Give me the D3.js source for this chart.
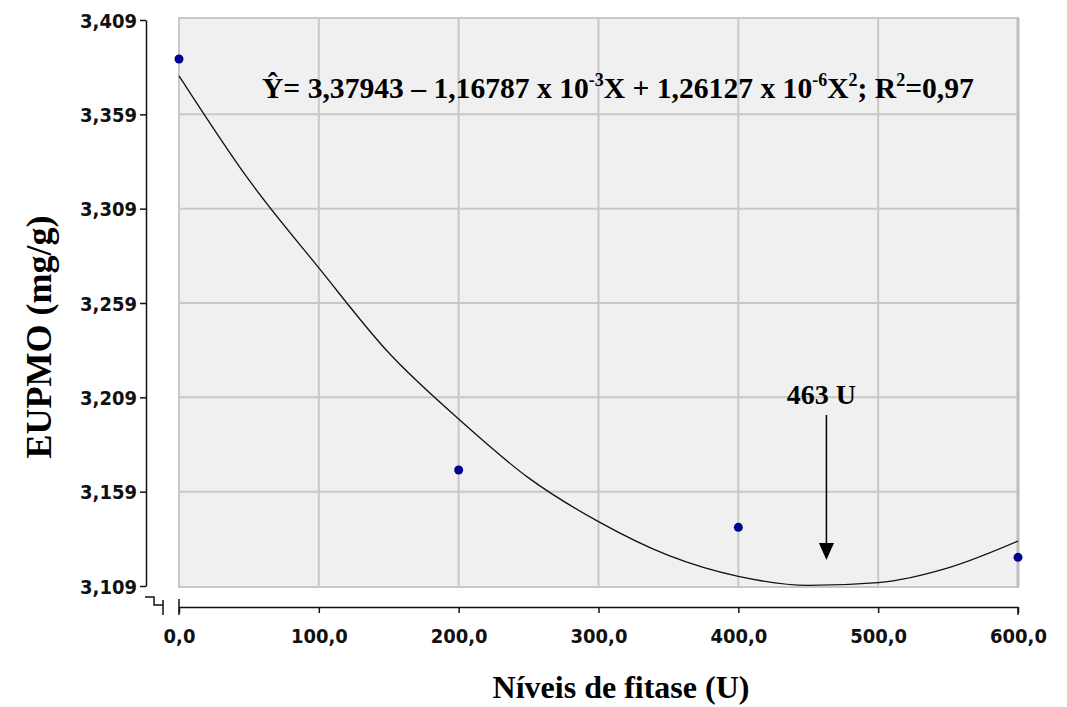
<!DOCTYPE html>
<html>
<head>
<meta charset="utf-8">
<script src="https://cdn.jsdelivr.net/npm/d3@7"></script>
<style>
	body { margin: 0; background: #fff; }
	svg { display: block; }
	.tick-label { font-family: "DejaVu Sans Condensed", "DejaVu Sans", Verdana, sans-serif; font-stretch: condensed; font-weight: bold; font-size: 20px; fill: #111; }
	.serif { font-family: "Liberation Serif", "Times New Roman", serif; font-weight: bold; fill: #000; }
</style>
</head>
<body>
<div id="chart"></div>
<script>
// observed means (EUPMO, mg/g) per phytase level
const levels = [0, 200, 400, 600];
const eupmo = [3.3883, 3.1705, 3.1401, 3.1242];

// fitted curve, every 50 U
const curve_x = [0, 50, 100, 150, 200, 250, 300, 350, 400, 450, 500, 550, 600];
const curve_y = [3.3794, 3.3242, 3.2776, 3.2326, 3.1975, 3.1663, 3.1431, 3.1252, 3.1141, 3.1093, 3.1108, 3.1186, 3.1328];

const x_ticks = [0, 100, 200, 300, 400, 500, 600];
const y_ticks = [3.109, 3.159, 3.209, 3.259, 3.309, 3.359, 3.409];

const optimum = 463;

const width = 1067;
const height = 707;
const plot = {left: 179, right: 1018, top: 18, bottom: 587};

const fmt = d3.formatLocale({decimal: ',', thousands: '.', grouping: [3]});
const fmtX = fmt.format('.1f');
const fmtY = fmt.format('.3f');

const svg = d3.select('#chart')
	.append('svg')
	.attr('width', width)
	.attr('height', height);

const xScale = d3.scaleLinear().domain([0, 600]).range([plot.left, plot.right]);
const yScale = d3.scaleLinear().domain([3.109, 3.409]).range([586, 20]);

// plot background
svg.append('rect')
	.attr('x', plot.left)
	.attr('y', plot.top)
	.attr('width', plot.right - plot.left)
	.attr('height', plot.bottom - plot.top)
	.attr('fill', '#f0f0f0')
	.attr('stroke', '#c8c8c8')
	.attr('stroke-width', 2);

// grid
svg.append('g')
	.selectAll('line')
	.data(x_ticks.slice(1, -1))
	.join('line')
	.attr('x1', d => xScale(d))
	.attr('x2', d => xScale(d))
	.attr('y1', plot.top)
	.attr('y2', plot.bottom)
	.attr('stroke', '#c8c8c8')
	.attr('stroke-width', 2);

svg.append('g')
	.selectAll('line')
	.data(y_ticks.slice(1, -1))
	.join('line')
	.attr('x1', plot.left)
	.attr('x2', plot.right)
	.attr('y1', d => yScale(d))
	.attr('y2', d => yScale(d))
	.attr('stroke', '#c8c8c8')
	.attr('stroke-width', 2);

// darker right edge of the plot
svg.append('line')
	.attr('x1', plot.right).attr('x2', plot.right)
	.attr('y1', plot.top).attr('y2', plot.bottom)
	.attr('stroke', '#bdbdbd')
	.attr('stroke-width', 3);

// y axis
const yAxis = svg.append('g')
	.attr('transform', 'translate(146,0)')
	.call(d3.axisLeft(yScale).tickValues(y_ticks).tickFormat(fmtY).tickSize(6).tickSizeOuter(0));

yAxis.select('.domain').attr('stroke', '#111').attr('stroke-width', 1.5);
yAxis.selectAll('.tick line').attr('stroke', '#111').attr('stroke-width', 1.5);
yAxis.selectAll('.tick text')
	.attr('class', 'tick-label')
	.attr('x', -9)
	.attr('dy', '0.35em');

// x axis
const xAxis = svg.append('g')
	.attr('transform', 'translate(0,607)')
	.call(d3.axisBottom(xScale).tickValues(x_ticks).tickFormat(fmtX).tickSize(6).tickSizeOuter(0));

xAxis.select('.domain').attr('stroke', '#111').attr('stroke-width', 1.5);
xAxis.selectAll('.tick line').attr('stroke', '#111').attr('stroke-width', 1.5);
xAxis.selectAll('.tick text')
	.attr('class', 'tick-label')
	.attr('y', 29)
	.attr('dy', '0.35em');

// start / end marks on the x axis
svg.append('line')
	.attr('x1', xScale(0)).attr('x2', xScale(0))
	.attr('y1', 599).attr('y2', 615)
	.attr('stroke', '#111').attr('stroke-width', 1.5);

svg.append('line')
	.attr('x1', xScale(600)).attr('x2', xScale(600))
	.attr('y1', 607).attr('y2', 615)
	.attr('stroke', '#111').attr('stroke-width', 1.5);

// axis break between the two axes
svg.append('path')
	.attr('d', 'M145,597 H154 V605 H163 M163,600 V615')
	.attr('fill', 'none')
	.attr('stroke', '#111')
	.attr('stroke-width', 1.5);

// fitted curve
const lineGenerator = d3.line()
	.x((d, i) => xScale(curve_x[i]))
	.y(d => yScale(d))
	.curve(d3.curveMonotoneX);

svg.append('path')
	.attr('d', lineGenerator(curve_y))
	.attr('fill', 'none')
	.attr('stroke', '#111')
	.attr('stroke-width', 1.3);

// observed points
svg.append('g')
	.selectAll('circle')
	.data(levels)
	.join('circle')
	.attr('cx', d => xScale(d))
	.attr('cy', (d, i) => yScale(eupmo[i]))
	.attr('r', 4.5)
	.attr('fill', '#000090');

// equation
const eq = svg.append('text')
	.attr('class', 'serif')
	.attr('x', 262)
	.attr('y', 98)
	.attr('font-size', 29.6);

const sup = (t) => eq.append('tspan').attr('dy', -12).attr('font-size', 18).text(t);
const base = (t) => eq.append('tspan').attr('dy', 12).text(t);

eq.append('tspan').text('Ŷ= 3,37943 – 1,16787 x 10');
sup('-3');
base('X + 1,26127 x 10');
sup('-6');
base('X');
sup('2');
base('; R');
sup('2');
base('=0,97');

// optimum arrow
const ax = xScale(optimum);

svg.append('text')
	.attr('class', 'serif')
	.attr('x', ax - 5)
	.attr('y', 404)
	.attr('text-anchor', 'middle')
	.attr('font-size', 28)
	.text(optimum + ' U');

svg.append('line')
	.attr('x1', ax).attr('x2', ax)
	.attr('y1', 415).attr('y2', 545)
	.attr('stroke', '#000')
	.attr('stroke-width', 1.5);

svg.append('path')
	.attr('d', `M${ax - 7.5},543 L${ax + 7.5},543 L${ax},560 Z`)
	.attr('fill', '#000');

// axis titles
svg.append('text')
	.attr('class', 'serif')
	.attr('x', 621)
	.attr('y', 698)
	.attr('text-anchor', 'middle')
	.attr('font-size', 32)
	.text('Níveis de fitase (U)');

svg.append('text')
	.attr('class', 'serif')
	.attr('transform', 'translate(51,337) rotate(-90)')
	.attr('text-anchor', 'middle')
	.attr('font-size', 36)
	.text('EUPMO (mg/g)');
</script>
</body>
</html>
